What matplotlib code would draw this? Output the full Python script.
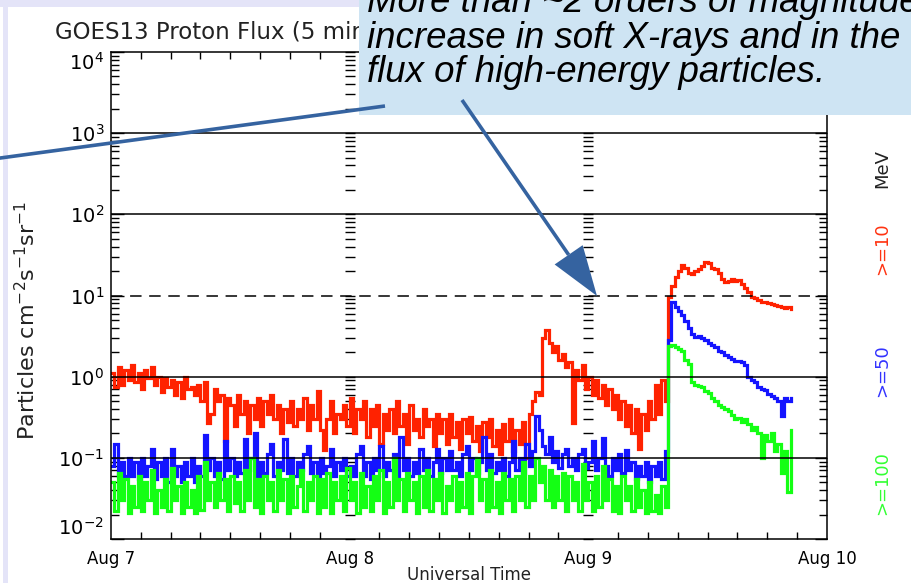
import numpy as np
import matplotlib
matplotlib.use("Agg")
import matplotlib.pyplot as plt
from matplotlib.lines import Line2D
from matplotlib.patches import Rectangle, Polygon
from matplotlib.ticker import MultipleLocator, FixedLocator, NullFormatter

# ---- GOES-13 integral proton flux, 20-minute samples from 2011 Aug 7 00:00 UT ----
SAMPLE_HOURS = 20 / 60.0

flux_10mev = [
    1.1, 0.75, 1.3,   0.8, 1.2, 0.9,    1.4, 0.85, 1.1,   0.7, 1.2, 0.95,
    1.3, 0.8, 1.0,    0.65, 0.95, 0.75, 0.9, 0.6, 0.85,   0.55, 1.0, 0.7,
    0.75, 0.6, 0.8,   0.5, 0.85, 0.27,  0.35, 0.7, 0.5,   0.6, 0.16, 0.55,
    0.45, 0.25, 0.6,  0.35, 0.5, 0.2,   0.45, 0.3, 0.55,  0.25, 0.5, 0.35,
    0.6, 0.3, 0.45,   0.2, 0.4, 0.28,   0.5, 0.25, 0.4,   0.3, 0.55, 0.22,
    0.45, 0.3, 0.66,  0.22, 0.125, 0.3, 0.5, 0.2, 0.35,   0.3, 0.45, 0.25,
    0.55, 0.2, 0.4,   0.3, 0.5, 0.18,   0.4, 0.25, 0.45,  0.15, 0.35, 0.22,
    0.4, 0.2, 0.5,    0.25, 0.35, 0.15, 0.45, 0.22, 0.3,  0.18, 0.4, 0.25,
    0.3, 0.14, 0.35,  0.2, 0.3, 0.15,   0.35, 0.18, 0.28, 0.13, 0.3, 0.2,
    0.32, 0.16, 0.25, 0.12, 0.28, 0.18, 0.3, 0.14, 0.22,  0.11, 0.26, 0.16,
    0.3, 0.12, 0.22,  0.15, 0.28, 0.1,  0.35, 0.5, 0.65,  0.6, 3.0, 3.8,
    2.6, 2.0, 2.4,    1.6, 1.9, 1.3,    1.5, 0.27, 1.2,   0.9, 1.4, 0.7,
    1.0, 0.6, 0.9,    0.55, 0.8, 0.45,  0.7, 0.4, 0.6,    0.3, 0.5, 0.25,
    0.45, 0.2, 0.4,   0.13, 0.35, 0.22, 0.5, 0.3, 0.8,    0.35, 0.9, 0.5,
    9.5, 13.0, 17.0,  20.0, 23.6, 22.0, 19.0, 18.5, 20.0, 21.0, 23.0, 25.8,
    25.0, 22.0, 21.5, 19.0, 16.0, 14.5, 15.0, 16.0, 15.0, 15.5, 14.0, 12.5,
    11.0, 9.5, 9.2,   8.8, 8.4, 8.3,    8.0, 7.9, 7.6,    7.5, 7.3, 7.0,
    7.2, 6.9,
]

flux_50mev = [
    0.08, 0.15, 0.06,  0.09, 0.06, 0.10,  0.06, 0.09, 0.055, 0.10, 0.06, 0.08,
    0.13, 0.055, 0.09, 0.06, 0.10, 0.05,  0.13, 0.06, 0.08,  0.05, 0.09, 0.06,
    0.10, 0.05, 0.08,  0.06, 0.19, 0.07,  0.10, 0.06, 0.09,  0.055, 0.16, 0.07,
    0.10, 0.06, 0.09,  0.065, 0.17, 0.07, 0.10, 0.20, 0.06,  0.09, 0.065, 0.11,
    0.15, 0.06, 0.09,  0.07, 0.17, 0.065, 0.10, 0.06, 0.09,  0.07, 0.11, 0.14,
    0.065, 0.09, 0.06, 0.10, 0.065, 0.08, 0.13, 0.06, 0.09,  0.07, 0.10, 0.06,
    0.08, 0.06, 0.11,  0.14, 0.06, 0.09,  0.055, 0.10, 0.07, 0.14, 0.06, 0.09,
    0.07, 0.11, 0.06,  0.18, 0.07, 0.10,  0.06, 0.09, 0.065, 0.13, 0.07, 0.10,
    0.06, 0.09, 0.13,  0.065, 0.10, 0.07, 0.12, 0.07, 0.09,  0.06, 0.11, 0.14,
    0.07, 0.10, 0.065, 0.09, 0.18, 0.07,  0.11, 0.065, 0.09, 0.07, 0.10, 0.06,
    0.09, 0.16, 0.07,  0.10, 0.065, 0.15, 0.08, 0.12, 0.33,  0.22, 0.14, 0.11,
    0.18, 0.09, 0.12,  0.075, 0.11, 0.13, 0.08, 0.10, 0.07,  0.11, 0.13, 0.075,
    0.09, 0.16, 0.07,  0.10, 0.175, 0.08, 0.06, 0.10, 0.07,  0.11, 0.065, 0.125,
    0.07, 0.09, 0.055, 0.08, 0.06, 0.09,  0.05, 0.08, 0.06,  0.09, 0.055, 0.12,
    2.8, 8.3, 7.2,     6.5, 5.8, 4.8,     4.0, 3.4, 3.1,     3.15, 3.0, 2.8,
    2.6, 2.45, 2.3,    2.1, 2.0, 1.85,    1.75, 1.65, 1.55,  1.55, 1.5, 1.4,
    1.0, 0.9, 0.85,    0.75, 0.7, 0.68,   0.62, 0.58, 0.55,  0.5, 0.33, 0.55,
    0.5, 0.55,
]

flux_100mev = [
    0.05, 0.022, 0.065, 0.03, 0.055, 0.021, 0.045, 0.025, 0.06, 0.022, 0.05, 0.03,
    0.07, 0.021, 0.04,  0.025, 0.055, 0.022, 0.075, 0.03, 0.045, 0.021, 0.05, 0.025,
    0.04, 0.021, 0.06,  0.023, 0.088, 0.03, 0.05, 0.025, 0.065, 0.03, 0.055, 0.022,
    0.06, 0.028, 0.05,  0.022, 0.07, 0.03,  0.1, 0.025, 0.055,  0.021, 0.06, 0.03,
    0.05, 0.022, 0.07,  0.03, 0.055, 0.021, 0.06, 0.025, 0.045, 0.07, 0.022, 0.05,
    0.03, 0.06, 0.021,  0.055, 0.025, 0.065, 0.021, 0.05, 0.03, 0.06, 0.022, 0.075,
    0.03, 0.05, 0.021,  0.065, 0.025, 0.045, 0.022, 0.06, 0.03, 0.07, 0.021, 0.05,
    0.025, 0.1, 0.03,   0.055, 0.022, 0.065, 0.03, 0.05, 0.021, 0.06, 0.025, 0.07,
    0.022, 0.055, 0.03, 0.065, 0.021, 0.045, 0.03, 0.06, 0.022, 0.05, 0.025, 0.065,
    0.021, 0.06, 0.1,   0.03, 0.055, 0.022, 0.07, 0.025, 0.05,  0.021, 0.065, 0.03,
    0.055, 0.022, 0.06, 0.03, 0.09, 0.025,  0.06, 0.03, 0.1,    0.05, 0.08, 0.03,
    0.07, 0.025, 0.06,  0.03, 0.065, 0.022, 0.06, 0.03, 0.05,   0.022, 0.085, 0.03,
    0.05, 0.022, 0.06,  0.025, 0.08, 0.03,  0.055, 0.022, 0.045, 0.021, 0.06, 0.03,
    0.045, 0.022, 0.055, 0.025, 0.04, 0.021, 0.05, 0.022, 0.035, 0.021, 0.045, 0.025,
    2.4, 2.45, 2.3,     2.2, 2.1, 1.6,      1.45, 0.85, 0.8,    0.76, 0.74, 0.66,
    0.63, 0.55, 0.5,    0.45, 0.42, 0.4,    0.38, 0.34, 0.3,    0.31, 0.28, 0.3,
    0.26, 0.22, 0.24,   0.2, 0.1, 0.19,     0.16, 0.2, 0.12,    0.15, 0.065, 0.12,
    0.038, 0.22,
]

channels = [
    (flux_10mev, "#ff2200", ">=10", "#ff3311", 249),
    (flux_50mev, "#1414ff", ">=50", "#3333ff", 371),
    (flux_100mev, "#14ff14", ">=100", "#33ff33", 483),
]

day_ticks = [0, 24, 48, 72]
day_labels = ["Aug 7", "Aug 8", "Aug 9", "Aug 10"]
decades = [1e-2, 1e-1, 1e0, 1e1, 1e2, 1e3, 1e4]
decade_labels = [r"$\mathdefault{10^{-2}}$", r"$\mathdefault{10^{-1}}$",
                 r"$\mathdefault{10^{0}}$", r"$\mathdefault{10^{1}}$",
                 r"$\mathdefault{10^{2}}$", r"$\mathdefault{10^{3}}$",
                 r"$\mathdefault{10^{4}}$"]

W, H = 912, 583
fig = plt.figure(figsize=(W / 100, H / 100), dpi=100)
fig.patch.set_facecolor("white")


def fxy(x, y):
    """pixel position (from top-left) -> figure fraction"""
    return x / W, 1 - y / H


# page border strips
fig.add_artist(Rectangle((3 / W, 0), 5 / W, 1, transform=fig.transFigure,
                         facecolor="#e4e4f8", edgecolor="none", zorder=0))
fig.add_artist(Rectangle((0, 1 - 7 / H), 1, 7 / H, transform=fig.transFigure,
                         facecolor="#e4e4f8", edgecolor="none", zorder=0))

ax = fig.add_axes([111 / W, (H - 539) / H, (827 - 111) / W, (539 - 52) / H])
ax.set_yscale("log")
ax.set_ylim(1e-2, 1e4)
ax.set_xlim(0, 72)

for vals, color, *_ in channels:
    t = np.arange(len(vals)) * SAMPLE_HOURS
    ax.plot(t, vals, color=color, lw=2.3, drawstyle="steps-post", zorder=2,
            solid_joinstyle="miter")

# decade reference lines
for level in [1e-1, 1e0, 1e2, 1e3]:
    ax.axhline(level, color="black", lw=1.1, zorder=4)
ax.axhline(1e1, color="black", lw=1.1, ls=(0, (7.5, 5)), zorder=4)

for s in ax.spines.values():
    s.set_linewidth(1.1)

# axis ticks
ax.set_xticks(day_ticks, labels=day_labels)
ax.xaxis.set_minor_locator(MultipleLocator(3))
ax.tick_params(axis="x", which="major", length=0, pad=8, labelsize=12)
ax.tick_params(axis="x", which="minor", direction="in", length=5, width=1,
               top=True, bottom=True)
ax.set_yticks(decades, labels=decade_labels)
ax.tick_params(axis="y", which="major", direction="in", length=9, width=1,
               left=True, right=True, labelsize=14, pad=5)
ax.tick_params(axis="y", which="minor", direction="in", length=6, width=1,
               left=True, right=True)
ylabs = ax.get_yticklabels()
ylabs[0].set_verticalalignment("bottom")
ylabs[-1].set_verticalalignment("top")

# tick columns at the day boundaries
for loc in (1 / 3, 2 / 3):
    sec = ax.secondary_yaxis(loc)
    for s in sec.spines.values():
        s.set_visible(False)
    sec.yaxis.set_major_locator(FixedLocator(decades))
    sec.tick_params(axis="y", which="both", direction="inout", length=7,
                    width=1, labelleft=False, labelright=False)
    sec.yaxis.set_minor_formatter(NullFormatter())

# texts
fig.text(*fxy(55, 32), "GOES13 Proton Flux (5 minute data)", ha="left",
         va="center", fontsize=16.5, color="#222222")
fig.text(*fxy(27, 320), r"Particles cm$^{-2}$s$^{-1}$sr$^{-1}$", rotation=90,
         ha="center", va="center", fontsize=16, color="#222222")
fig.text(*fxy(469, 575), "Universal Time", ha="center", va="center",
         fontsize=12, color="#222222")
fig.text(*fxy(882, 168), "MeV", rotation=90, ha="center", va="center",
         fontsize=13, color="#222222")
for vals, color, label, tcolor, ypix in channels:
    fig.text(*fxy(882, ypix), label, rotation=90, ha="center", va="center",
             fontsize=13, color=tcolor)

# callout box with pointer lines
fig.add_artist(Rectangle(fxy(359, 115), (W - 359) / W, 115 / H,
                         transform=fig.transFigure, facecolor="#cee4f3",
                         edgecolor="none", zorder=10))
callout = ["More than ~2 orders of magnitude",
           "increase in soft X-rays and in the",
           "flux of high-energy particles."]
for line, base in zip(callout, [12.5, 47.5, 82.5]):
    fig.text(*fxy(367, base), line, ha="left", va="baseline",
             fontsize=26.4, style="italic", family="Liberation Sans",
             color="black", zorder=11)

pointer = "#3563a0"
x0, y0, x1, y1 = -10, 159.4, 385, 106
fig.add_artist(Line2D([x0 / W, x1 / W], [1 - y0 / H, 1 - y1 / H],
                      transform=fig.transFigure, color=pointer, lw=2.6,
                      solid_capstyle="butt", zorder=12))

sx, sy, tx, ty = 462, 100, 597, 296
d = np.array([tx - sx, ty - sy], dtype=float)
u = d / np.hypot(*d)
perp = np.array([u[1], -u[0]])
head_len, head_half = 50, 17
base = np.array([tx, ty]) - head_len * u
fig.add_artist(Line2D([sx / W, base[0] / W], [1 - sy / H, 1 - base[1] / H],
                      transform=fig.transFigure, color=pointer, lw=2.6,
                      solid_capstyle="butt", zorder=12))
corners = [base + head_half * perp, np.array([tx, ty]), base - head_half * perp]
fig.add_artist(Polygon([(cx / W, 1 - cy / H) for cx, cy in corners],
                       closed=True, transform=fig.transFigure,
                       facecolor=pointer, edgecolor="none", zorder=12))

fig.savefig("out.png", dpi=100)
